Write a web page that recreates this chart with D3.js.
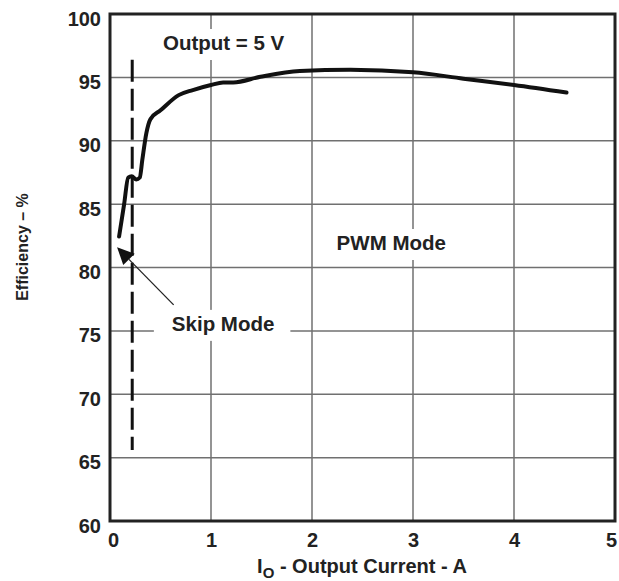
<!DOCTYPE html>
<html><head><meta charset="utf-8">
<script src="https://cdn.jsdelivr.net/npm/d3@7"></script>
<style>
html,body{margin:0;padding:0;background:#fff;}
text{font-family:"Liberation Sans",Arial,Helvetica,sans-serif;font-weight:bold;fill:#222;}
</style></head>
<body><svg id="c" width="619" height="581"></svg>
<script>
// Data
const currentA = [0.09, 0.14, 0.18, 0.215, 0.26, 0.295, 0.32, 0.36, 0.40, 0.5, 0.68, 0.82, 1.0, 1.12, 1.22, 1.49, 1.88, 2.38, 3.0, 3.5, 4.0, 4.52];
const efficiency = [82.45, 85.0, 87.1, 87.2, 86.95, 87.1, 88.5, 90.6, 91.7, 92.4, 93.6, 94.0, 94.4, 94.6, 94.6, 95.05, 95.5, 95.6, 95.4, 94.9, 94.4, 93.8];
const xTicks = [0, 1, 2, 3, 4, 5];
const yTicks = [60, 65, 70, 75, 80, 85, 90, 95, 100];
const skipBoundary = 0.22;      // dashed line position (A)
const skipSpan = [65.6, 96.4];  // dashed line extent (%)
const labels = [
  {text: "Output = 5 V", x: 1.125, y: 97.16},
  {text: "PWM Mode", x: 2.785, y: 81.38},
  {text: "Skip Mode", x: 1.12, y: 75.0}
];
const arrowFrom = [0.63, 77.05];
const arrowTo = [0.07, 81.6];

const svg = d3.select("#c");
const L = 110, R = 615, T = 14, B = 521;
const x = d3.scaleLinear().domain([0, 5]).range([L, R]);
const y = d3.scaleLinear().domain([60, 100]).range([B, T]);

// gridlines
const g = svg.append("g");
g.selectAll(".gx").data(xTicks.slice(1, -1)).join("line")
  .attr("x1", d => x(d)).attr("x2", d => x(d)).attr("y1", T).attr("y2", B)
  .attr("stroke", "#707070").attr("stroke-width", 1.5);
g.selectAll(".gy").data(yTicks.slice(1, -1)).join("line")
  .attr("x1", L).attr("x2", R).attr("y1", d => y(d)).attr("y2", d => y(d))
  .attr("stroke", "#707070").attr("stroke-width", 1.5);

// axes labels via d3 axes
const ax = svg.append("g").attr("transform", `translate(0,${B})`)
  .call(d3.axisBottom(x).tickValues(xTicks).tickSize(0).tickPadding(0).tickFormat(d3.format("d")));
ax.select(".domain").remove();
ax.selectAll("text").attr("y", 26).attr("dy", null).style("font-size", "20px")
  .attr("x", d => d === 5 ? -4 : (d === 0 ? 3 : 0))
  .style("font-family", '"Liberation Sans",Arial,sans-serif').style("font-weight", "bold").attr("fill", "#222");
const ay = svg.append("g").attr("transform", `translate(${L},0)`)
  .call(d3.axisLeft(y).tickValues(yTicks).tickSize(0).tickPadding(0).tickFormat(d3.format("d")));
ay.select(".domain").remove();
ay.selectAll("text").attr("x", -9).attr("dy", "0.55em").style("font-size", "20px")
  .style("font-family", '"Liberation Sans",Arial,sans-serif').style("font-weight", "bold").attr("fill", "#222");

// text labels with white backgrounds
labels.forEach(l => {
  const bg = svg.append("rect");
  const t = svg.append("text").attr("x", x(l.x)).attr("y", y(l.y))
    .attr("text-anchor", "middle").style("font-size", "20.5px").text(l.text);
  const bb = t.node().getBBox();
  bg.attr("x", bb.x - 18).attr("y", bb.y - 2).attr("width", bb.width + 34).attr("height", bb.height + 8).attr("fill", "#fff");
});

// dashed skip boundary
svg.append("line").attr("x1", x(skipBoundary)).attr("x2", x(skipBoundary))
  .attr("y1", y(skipSpan[1])).attr("y2", y(skipSpan[0]))
  .attr("stroke", "#111").attr("stroke-width", 3).attr("stroke-dasharray", "22,7");

// arrow
const ax1 = x(arrowFrom[0]), ay1 = y(arrowFrom[1]), ax2 = x(arrowTo[0]), ay2 = y(arrowTo[1]);
const ang = Math.atan2(ay2 - ay1, ax2 - ax1);
const hl = 17, hw = 8;
const bx = ax2 - hl * Math.cos(ang), by = ay2 - hl * Math.sin(ang);
svg.append("line").attr("x1", ax1).attr("y1", ay1).attr("x2", bx).attr("y2", by)
  .attr("stroke", "#222").attr("stroke-width", 1.3);
svg.append("path").attr("d", `M${ax2},${ay2}L${bx + hw * Math.sin(ang)},${by - hw * Math.cos(ang)}L${bx - hw * Math.sin(ang)},${by + hw * Math.cos(ang)}Z`)
  .attr("fill", "#111");

// curve
const pts = currentA.map((c, i) => [c, efficiency[i]]);
svg.append("path").datum(pts)
  .attr("d", d3.line().x(d => x(d[0])).y(d => y(d[1])).curve(d3.curveMonotoneX))
  .attr("fill", "none").attr("stroke", "#111").attr("stroke-width", 4).attr("stroke-linejoin", "round").attr("stroke-linecap", "round");

// frame
svg.append("rect").attr("x", L).attr("y", T).attr("width", R - L).attr("height", B - T)
  .attr("fill", "none").attr("stroke", "#222").attr("stroke-width", 3);

// axis titles
const xt = svg.append("text").attr("x", 362).attr("y", 573).attr("text-anchor", "middle").style("font-size", "20px");
xt.append("tspan").text("I");
xt.append("tspan").attr("dy", 5).style("font-size", "15px").text("O");
xt.append("tspan").attr("dy", -5).text(" - Output Current - A");
svg.append("text").attr("transform", "translate(28,247) rotate(-90)").attr("text-anchor", "middle")
  .style("font-size", "16px").text("Efficiency – %");
</script></body></html>
